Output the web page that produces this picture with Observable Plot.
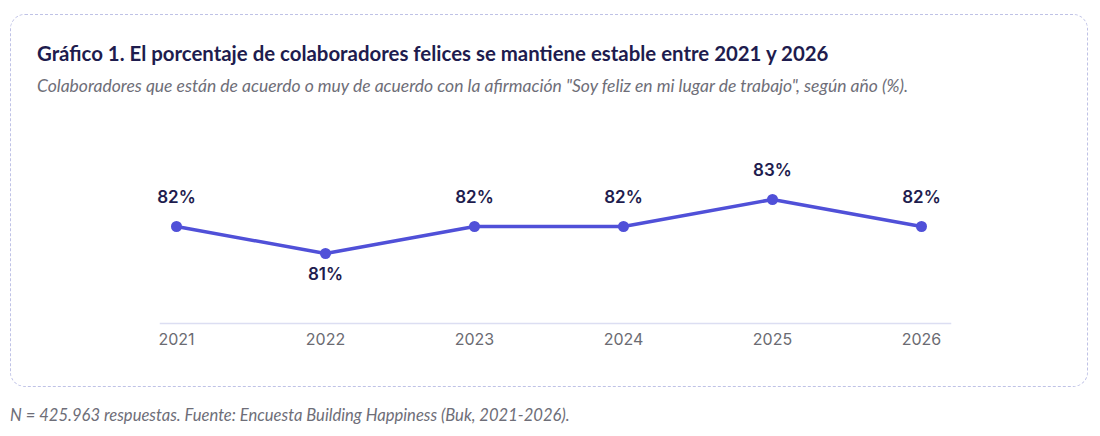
<!DOCTYPE html>
<html>
<head>
<meta charset="utf-8">
<script src="https://cdn.jsdelivr.net/npm/d3@7"></script>
<script src="https://cdn.jsdelivr.net/npm/@observablehq/plot@0.6"></script>
<style>
  html, body { margin: 0; padding: 0; background: #fff; }
  body { width: 1100px; height: 436px; position: relative; overflow: hidden; }
  #card {
    position: absolute; left: 10px; top: 14px; width: 1076px; height: 371px;
    border: 1.5px dashed #bfc2e6; border-radius: 15px; box-sizing: content-box;
  }
  #title {
    position: absolute; left: 37px; top: 41px; margin: 0;
    font-family: Lato, "Noto Sans", sans-serif; font-weight: 700; font-size: 20.4px;
    color: #1e1c4e; white-space: nowrap; line-height: 24px;
  }
  #subtitle {
    position: absolute; left: 37px; top: 75px; margin: 0;
    font-family: Lato, "Noto Sans", sans-serif; font-style: italic; font-size: 17.5px;
    color: #6e6e78; white-space: nowrap; line-height: 22px;
  }
  #chart { position: absolute; left: 0; top: 130px; }
  #caption {
    position: absolute; left: 10px; top: 404px; margin: 0;
    font-family: Lato, "Noto Sans", sans-serif; font-style: italic; font-size: 16.6px;
    color: #6e6e78; white-space: nowrap; line-height: 22px;
  }
</style>
</head>
<body>
<div id="card"></div>
<h2 id="title">Gráfico 1. El porcentaje de colaboradores felices se mantiene estable entre 2021 y 2026</h2>
<p id="subtitle">Colaboradores que están de acuerdo o muy de acuerdo con la afirmación "Soy feliz en mi lugar de trabajo", según año (%).</p>
<div id="chart"></div>
<p id="caption">N = 425.963 respuestas. Fuente: Encuesta Building Happiness (Buk, 2021-2026).</p>
<script>
const years = ["2021", "2022", "2023", "2024", "2025", "2026"];
const values = [82, 81, 82, 82, 83, 82];
const labelPos = ["above", "below", "above", "above", "above", "above"];

const data = years.map((y, i) => ({year: y, value: values[i], pos: labelPos[i]}));

const chart = Plot.plot({
  width: 1100,
  height: 230,
  marginLeft: 160,
  marginRight: 150,
  marginTop: 0,
  marginBottom: 37,
  insetLeft: 14,
  insetRight: 27,
  style: {fontFamily: "Inter, sans-serif", background: "transparent"},
  x: {type: "point", domain: years, padding: 0, label: null},
  y: {domain: [81, 83], range: [123, 69], axis: null},
  marks: [
    Plot.frame({anchor: "bottom", stroke: "#dcdef2", strokeWidth: 1.5}),
    Plot.axisX({tickSize: 0, tickPadding: 10, fontSize: 16, fill: "#6b6b72", label: null}),
    Plot.line(data, {x: "year", y: "value", stroke: "#5050d8", strokeWidth: 3.5}),
    Plot.dot(data, {x: "year", y: "value", r: 5.5, fill: "#5050d8"}),
    Plot.text(data.filter(d => d.pos === "above"), {x: "year", y: "value", text: d => d.value + "%", dy: -29, fontSize: 17, fontWeight: 600, fill: "#1e1c4e"}),
    Plot.text(data.filter(d => d.pos === "below"), {x: "year", y: "value", text: d => d.value + "%", dy: 21, fontSize: 17, fontWeight: 600, fill: "#1e1c4e"})
  ]
});
document.getElementById("chart").appendChild(chart);
</script>
</body>
</html>
